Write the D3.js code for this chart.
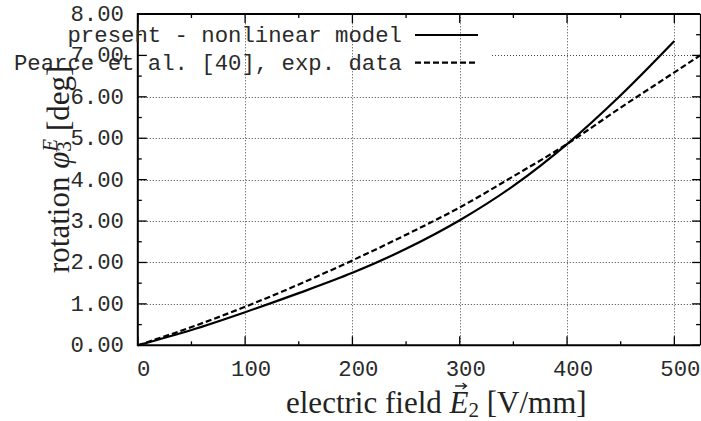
<!DOCTYPE html>
<html><head><meta charset="utf-8">
<script src="https://cdn.jsdelivr.net/npm/d3@7"></script>
<style>
html,body{margin:0;padding:0;background:#fff;}
svg{display:block;}
</style></head>
<body>
<svg id="c" width="701" height="421"></svg>
<script>
// ---- data ----
const modelX = [0, 50, 100, 150, 200, 250, 300, 350, 400, 450, 500];
const modelY = [0, 0.37, 0.80, 1.26, 1.75, 2.33, 3.02, 3.85, 4.86, 6.04, 7.35];
const expX = [0, 50, 100, 150, 200, 250, 300, 350, 400, 450, 500, 524];
const expY = [0, 0.44, 0.93, 1.47, 2.05, 2.67, 3.33, 4.08, 4.86, 5.74, 6.59, 7.00];
const xTicks = [0, 100, 200, 300, 400, 500];
const yTicks = [0, 1, 2, 3, 4, 5, 6, 7, 8];
const seriesNames = ["present - nonlinear model", "Pearce et al. [40], exp. data"];

const svg = d3.select("#c");
const L = 137.8, R = 700.1, T = 14, B = 345.3;
const x = d3.scaleLinear().domain([0, 524]).range([L, R]);
const y = d3.scaleLinear().domain([0, 8]).range([B, T]);

const mono = "'Liberation Mono','DejaVu Sans Mono',monospace";
const serif = "'Liberation Serif','DejaVu Serif',serif";
const monoSize = 22.3;

// grid
const grid = svg.append("g").attr("stroke", "#444").attr("stroke-width", 1).attr("stroke-dasharray", "1,2");
xTicks.filter(v => v > 0).forEach(v => {
  grid.append("line").attr("x1", Math.round(x(v)) + 0.5).attr("x2", Math.round(x(v)) + 0.5)
    .attr("y1", B).attr("y2", T);
});
const legendEnd = 492;
yTicks.filter(v => v > 0 && v < 8).forEach(v => {
  const yy = Math.round(y(v)) + 0.5;
  const x1 = (v === 7) ? legendEnd : L;
  grid.append("line").attr("x1", x1).attr("x2", R).attr("y1", yy).attr("y2", yy);
});

// ticks
const tk = svg.append("g").attr("stroke", "#000").attr("stroke-width", 1.3);
d3.range(0, 525, 50).forEach(v => {
  const major = v % 100 === 0;
  const len = major ? 9 : 4;
  const xx = x(v);
  tk.append("line").attr("x1", xx).attr("x2", xx).attr("y1", B).attr("y2", B - len);
  tk.append("line").attr("x1", xx).attr("x2", xx).attr("y1", T).attr("y2", T + len);
});
d3.range(0, 8.01, 0.5).forEach(v => {
  const major = Math.abs(v - Math.round(v)) < 1e-6;
  const len = major ? 9 : 4;
  const yy = y(v);
  tk.append("line").attr("x1", L).attr("x2", L + len).attr("y1", yy).attr("y2", yy);
  tk.append("line").attr("x1", R).attr("x2", R - (major ? 8 : 4)).attr("y1", yy).attr("y2", yy);
});

// curves
const line = d3.line().x(d => x(d[0])).y(d => y(d[1])).curve(d3.curveMonotoneX);
svg.append("path").datum(modelX.map((v, i) => [v, modelY[i]]))
  .attr("d", line).attr("fill", "none").attr("stroke", "#000").attr("stroke-width", 2.2);
svg.append("path").datum(expX.map((v, i) => [v, expY[i]]))
  .attr("d", line).attr("fill", "none").attr("stroke", "#000").attr("stroke-width", 2.2)
  .attr("stroke-dasharray", "6,3");

// border
svg.append("path")
  .attr("d", `M${R},${T}H${L}V${B}H${R}`)
  .attr("fill", "none").attr("stroke", "#000").attr("stroke-width", 2);
svg.append("line").attr("x1", 700.5).attr("x2", 700.5).attr("y1", T).attr("y2", B)
  .attr("stroke", "#000").attr("stroke-width", 1.2);

// tick labels
svg.append("g").selectAll("text").data(yTicks).join("text")
  .attr("x", 124).attr("y", d => y(d) + 7)
  .attr("text-anchor", "end").attr("font-family", mono).attr("font-size", monoSize).attr("fill", "#2a2a2a")
  .text(d => d3.format(".2f")(d));
svg.append("g").selectAll("text").data(xTicks).join("text")
  .attr("x", d => x(d) + 6).attr("y", B + 31)
  .attr("text-anchor", "middle").attr("font-family", mono).attr("font-size", monoSize).attr("fill", "#2a2a2a")
  .text(d => d);

// legend
const legY = [35, 62.7];
seriesNames.forEach((name, i) => {
  svg.append("text").attr("x", 402).attr("y", legY[i] + 7)
    .attr("text-anchor", "end").attr("font-family", mono).attr("font-size", monoSize).attr("fill", "#2a2a2a")
    .text(name);
  svg.append("line").attr("x1", 415).attr("x2", 478).attr("y1", legY[i]).attr("y2", legY[i])
    .attr("stroke", "#000").attr("stroke-width", 2.2)
    .attr("stroke-dasharray", i === 1 ? "6,3" : null);
});

// x title
const xt = svg.append("text").attr("x", 286).attr("y", 413)
  .attr("font-family", serif).attr("font-size", 31).attr("fill", "#222");
xt.append("tspan").text("electric field ");
xt.append("tspan").attr("font-style", "italic").text("E");
xt.append("tspan").attr("font-size", 21).attr("dy", 4).text("2");
xt.append("tspan").attr("dy", -4).text(" [V/mm]");
{
  const ex = xt.node().getExtentOfChar(15);
  const ax1 = ex.x + ex.width * 0.3, ax2 = ex.x + ex.width * 0.9, ay = 386;
  svg.append("path").attr("d", `M${ax1},${ay}H${ax2}M${ax2 - 4},${ay - 3}L${ax2},${ay}L${ax2 - 4},${ay + 3}`)
    .attr("fill", "none").attr("stroke", "#222").attr("stroke-width", 1.3);
}

// y title
const yt = svg.append("text").attr("transform", "translate(69,273) rotate(-90)")
  .attr("font-family", serif).attr("font-size", 31).attr("fill", "#222");
yt.append("tspan").text("rotation ");
yt.append("tspan").attr("font-style", "italic").text("φ");
yt.append("tspan").attr("font-size", 21).attr("dy", 2).text("3");
yt.append("tspan").attr("font-size", 21).attr("font-style", "italic").attr("dx", -10.5).attr("dy", -14).text("E");
yt.append("tspan").attr("dy", 12).text(" [deg]");
</script>
</body></html>
